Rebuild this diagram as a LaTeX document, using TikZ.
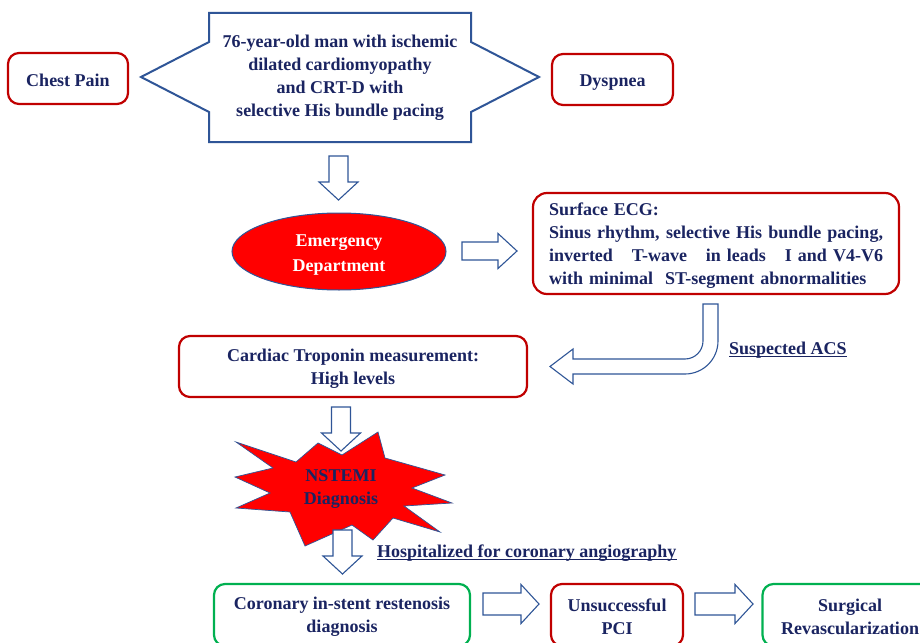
\documentclass[tikz,border=0pt]{standalone}
\usepackage{fontspec}
\setmainfont{Liberation Serif}
\usetikzlibrary{shapes.geometric}
\definecolor{txtnavy}{HTML}{1A2461}
\definecolor{bred}{HTML}{C00000}
\definecolor{bgreen}{HTML}{00B050}
\definecolor{bblue}{HTML}{2F5597}
\definecolor{starred}{HTML}{FF0000}
\newcommand{\dnarrow}[2]{\draw[blk] (#1-9.5,#2) -- (#1+9.5,#2) -- (#1+9.5,#2+26) -- (#1+19.5,#2+26) -- (#1,#2+44) -- (#1-19.5,#2+26) -- (#1-9.5,#2+26) -- cycle;}
\newcommand{\rtarrow}[6]{\draw[blk] (#1,#2-#5) -- (#1+#3,#2-#5) -- (#1+#3,#2-#6) -- (#1+#4,#2) -- (#1+#3,#2+#6) -- (#1+#3,#2+#5) -- (#1,#2+#5) -- cycle;}
\newcommand{\tup}[1]{\rule{0pt}{#1pt}}
\newcommand{\jline}[2]{\leavevmode\hbox to 334pt{\spaceskip=4.5pt plus #1fil\relax #2}}
\begin{document}
\begin{tikzpicture}[x=1pt,y=-1pt,
  every node/.style={font=\fontsize{18}{23}\selectfont\bfseries,text=txtnavy},
  redbox/.style={draw=bred,line width=2.2pt,rounded corners=11pt,align=center,inner sep=0pt},
  greenbox/.style={draw=bgreen,line width=2.2pt,rounded corners=11pt,align=center,inner sep=0pt},
  blk/.style={draw=bblue,line width=1.1pt,fill=white,line join=miter},
  lbl/.style={inner sep=0pt,anchor=base west},
  ulin/.style={draw=txtnavy,line width=1.4pt}]
\useasboundingbox (0,0) rectangle (920,642);
\clip (0,0) rectangle (920,642);
\fill[white] (0,0) rectangle (920,642);

% top row
\node[redbox,minimum width=120pt,minimum height=51pt] (chest) at (68,78.5) {\tup{17}Chest Pain};
\node[redbox,minimum width=121pt,minimum height=51pt] (dysp) at (612.5,79.5) {\tup{17}Dyspnea};
\draw[draw=bblue,line width=2pt,line join=miter] (209,13) -- (471,13) -- (471,42) -- (539,77) -- (471,112) -- (471,142) -- (209,142) -- (209,112) -- (141,77) -- (209,42) -- cycle;
\node[align=center] (main) at (340,76) {\tup{15}76-year-old man with ischemic\\dilated cardiomyopathy\\and CRT-D with\\selective His bundle pacing};

\dnarrow{338.5}{156}

% emergency department
\node[ellipse,fill=starred,draw=bblue,line width=1pt,minimum width=214pt,minimum height=77pt,inner sep=0pt,align=center,text=white] (ed) at (339,251.5) {\tup{19}Emergency\\[2pt]Department};
\rtarrow{462}{251}{36}{55}{9}{17.5}

% ECG
\node[redbox,rounded corners=14pt,minimum width=366pt,minimum height=101pt,text width=334pt,align=left] (ecg) at (716,243.5) {\tup{17}Surface ECG:\\
\jline{1}{Sinus rhythm, selective His bundle pacing,}\\
\jline{0.15}{inverted\hspace{8pt plus 1fil}T-wave\hspace{8pt plus 1fil}in leads\hspace{8pt plus 1fil}I and V4-V6}\\
with minimal\ \ ST-segment abnormalities};

% bent arrow
\draw[blk] (703,304) -- (718,304) -- (718,341) .. controls (718,359.2) and (703.2,374) .. (685,374) -- (573,374) -- (573,384) -- (550,366.5) -- (573,349) -- (573,359) -- (685,359) .. controls (694.9,359) and (703,350.9) .. (703,341) -- cycle;
\node[lbl] (acs) at (729,354) {Suspected ACS};
\draw[ulin] ([yshift=-2.5pt]acs.base west) -- ([yshift=-2.5pt]acs.base east);

% troponin
\node[redbox,minimum width=348pt,minimum height=61pt] (trop) at (353,366.5) {\tup{17}Cardiac Troponin measurement:\\High levels};

% starburst
\draw[fill=starred,draw=bblue,line width=0.7pt,line join=miter] (236,442) -- (296,462) -- (318,443) -- (342,455) -- (378,432) -- (385,458) -- (445,475) -- (412,488) -- (452,503) -- (404,506) -- (440,532) -- (393,518) -- (373,540) -- (352,525) -- (305,546) -- (290,512) -- (236,508) -- (270,493) -- (235,477) -- (273,468) -- cycle;
\node[align=center] (nstemi) at (341,487) {\tup{15}NSTEMI\\Diagnosis};

\dnarrow{341}{407}
\dnarrow{342.5}{530}

\node[lbl] (hosp) at (377,557) {Hospitalized for coronary angiography};
\draw[ulin] ([yshift=-2.5pt]hosp.base west) -- ([yshift=-2.5pt]hosp.base east);

% bottom row
\node[greenbox,minimum width=256pt,minimum height=62pt] (cor) at (342,615) {\tup{16}Coronary in-stent restenosis\\diagnosis};
\rtarrow{483}{604}{38}{56}{11}{19.5}
\node[redbox,minimum width=132pt,minimum height=62pt] (pci) at (617,615) {\tup{16}Unsuccessful\\PCI};
\rtarrow{695}{604}{40}{58}{11}{19.5}
\node[greenbox,minimum width=175pt,minimum height=62pt] (surg) at (850,615) {\tup{16}Surgical\\Revascularization};
\end{tikzpicture}
\end{document}
